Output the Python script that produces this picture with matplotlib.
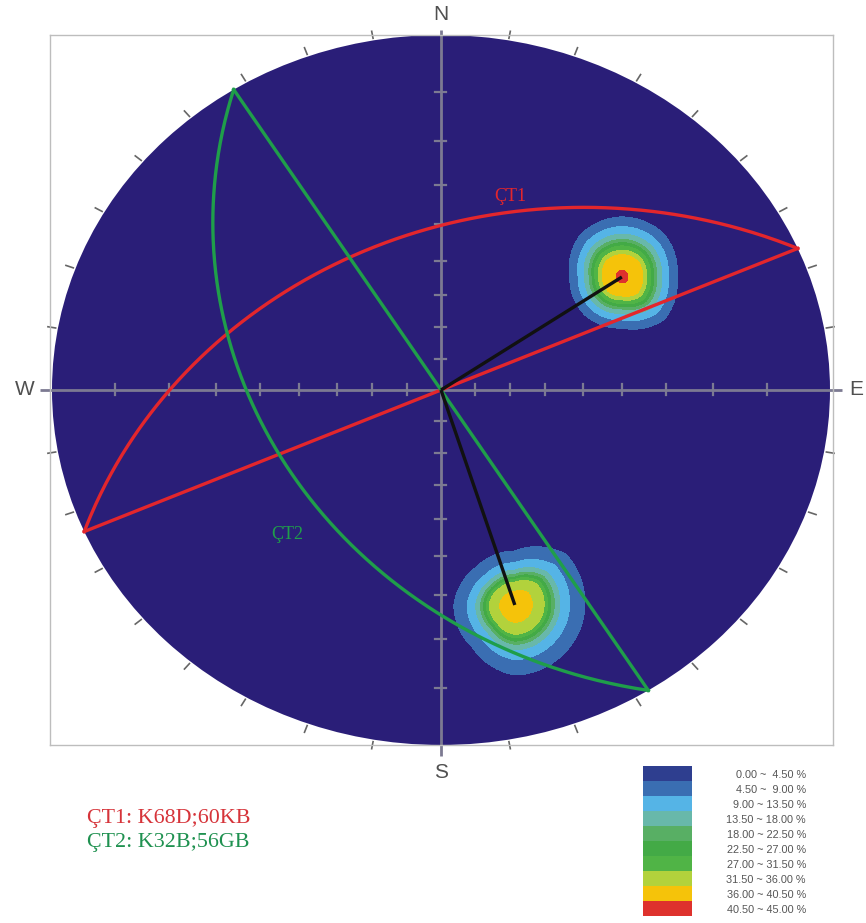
import numpy as np
import matplotlib
matplotlib.use("Agg")
import matplotlib.pyplot as plt
from matplotlib.patches import Circle

# ---------------- data ----------------
# great circles as drawn (dip direction / dip, degrees)
plane_names = ["ÇT1", "ÇT2"]
plane_dipdir = [336.5, 237.8]
plane_dip = [42.7, 41.5]
plane_colors = ["#e3262c", "#1f9e4a"]

# density maxima (trend / plunge) and their peak value (%)
max_trend = [55.6, 162.6]
max_plunge = [31.2, 25.2]
max_peak = [42.5, 39.5]

# contour class bounds (%)
level_bounds = [0.0, 4.5, 9.0, 13.5, 18.0, 22.5, 27.0, 31.5, 36.0, 40.5, 45.0]
# radius (px) where each class bound 4.5, 9, ... is crossed, per maximum
ring_radius_1 = [56, 47, 40, 35, 32, 29, 25, 21, 6]
ring_radius_2 = [64, 50, 41, 36, 33, 30, 27, 16]
# outer outline radius (px) by direction (deg, counter-clockwise from E)
outline_dirs = [0, 45, 90, 135, 180, 225, 270, 315]
outline_1 = [55, 60, 60, 59, 52, 53, 51, 60]
outline_2 = [70, 72, 54, 54, 61, 60, 70, 69]

legend_colors = ["#2e3e8f", "#3a6eb2", "#55b4e6", "#68b8aa", "#58af64",
                 "#43aa46", "#50b446", "#b2d23c", "#f5c30a", "#de322d"]
legend_labels = ["0.00 ~  4.50 %", "4.50 ~  9.00 %", "9.00 ~ 13.50 %",
                 "13.50 ~ 18.00 %", "18.00 ~ 22.50 %", "22.50 ~ 27.00 %",
                 "27.00 ~ 31.50 %", "31.50 ~ 36.00 %", "36.00 ~ 40.50 %",
                 "40.50 ~ 45.00 %"]
note_lines = ["ÇT1: K68D;60KB", "ÇT2: K32B;56GB"]
cardinals = ["N", "E", "S", "W"]

# ---------------- style ----------------
W, H = 866, 923
RX, RY = 389.0, 355.0          # pixels per unit radius
BG = "#2a1e78"
AXIS_C = "#7c7a92"
TXT_C = "#505050"


def project(trend, plunge):
    r = np.tan(np.radians(90.0 - np.asarray(plunge)) / 2.0)
    t = np.radians(trend)
    return r * np.sin(t), r * np.cos(t)


fig = plt.figure(figsize=(W / 100, H / 100), dpi=100)
ax = fig.add_axes([50 / W, 1 - 745 / H, 783 / W, 710 / H])
ax.set_xlim((50 - 441) / RX, (833 - 441) / RX)
ax.set_ylim(-1.0, 1.0)
ax.set_xticks([])
ax.set_yticks([])
for s in ax.spines.values():
    s.set_color("#bdbdbd")
    s.set_linewidth(1.0)

net = Circle((0, 0), 1.0, facecolor=BG, edgecolor="none", zorder=1)
ax.add_patch(net)

# cross lines
ax.plot([-1.03, 1.03], [0, 0], color=AXIS_C, lw=2.0, zorder=2, clip_on=False,
        solid_capstyle="butt")
ax.plot([0, 0], [-1.03, 1.015], color=AXIS_C, lw=2.0, zorder=2, clip_on=False,
        solid_capstyle="butt")
ticks = np.tan(np.radians(np.arange(5, 45, 5)))
hx, hy = 5.5 / RX, 5.5 / RY
for t in np.concatenate([ticks, -ticks]):
    ax.plot([t, t], [-hy, hy], color=AXIS_C, lw=1.6, zorder=2)
    ax.plot([-hx, hx], [t, t], color=AXIS_C, lw=1.6, zorder=2)

# perimeter ticks every 10 degrees
for az in range(10, 360, 10):
    if az % 90 == 0:
        continue
    a = np.radians(az)
    ax.plot([1.006 * np.sin(a), 1.026 * np.sin(a)],
            [1.006 * np.cos(a), 1.026 * np.cos(a)],
            color="#666666", lw=1.2, zorder=2, clip_on=False)

# density contours
gx = np.linspace(-1.01, 1.01, 900)
X, Y = np.meshgrid(gx, gx)
D = np.zeros_like(X)
for tr, pl, pk, rings, outl in [(max_trend[0], max_plunge[0], max_peak[0], ring_radius_1, outline_1),
                                (max_trend[1], max_plunge[1], max_peak[1], ring_radius_2, outline_2)]:
    cx, cy = project(tr, pl)
    dx = (X - cx) * RX
    dy = (Y - cy) * RY
    r = np.hypot(dx, dy)
    th = np.degrees(np.arctan2(dy, dx)) % 360
    shape = np.interp(th, outline_dirs + [360], outl + [outl[0]]) / rings[0]
    reff = r / shape
    n = len(rings)
    xp = [0.0] + rings[::-1] + [rings[0] + 14]
    fp = [pk] + level_bounds[1:n + 1][::-1] + [0.0]
    D = np.maximum(D, np.interp(reff, xp, fp))
D[X ** 2 + Y ** 2 > 1.0] = np.nan
cf = ax.contourf(X, Y, D, levels=level_bounds[1:], colors=legend_colors[1:], zorder=3)
cf.set_clip_path(net)

# great circles, strike lines, lines to maxima
for name, dd, dip, col in zip(plane_names, plane_dipdir, plane_dip, plane_colors):
    alpha = np.linspace(dd - 90, dd + 90, 361)
    p = np.degrees(np.arctan(np.tan(np.radians(dip)) * np.cos(np.radians(alpha - dd))))
    x, y = project(alpha, p)
    ax.plot(x, y, color=col, lw=2.4, zorder=5)
    sx, sy = project([dd - 90, dd + 90], [0, 0])
    ax.plot(sx, sy, color=col, lw=2.4, zorder=5)

for tr, pl in zip(max_trend, max_plunge):
    px, py = project(tr, pl)
    ax.plot([0, px], [0, py], color="#111111", lw=2.4, zorder=6,
            solid_capstyle="butt")

ax.text(0.177, 0.546, plane_names[0], color=plane_colors[0], fontsize=13,
        family="Liberation Serif", ha="center", va="center", zorder=7)
ax.text(-0.396, -0.408, plane_names[1], color=plane_colors[1], fontsize=13,
        family="Liberation Serif", ha="center", va="center", zorder=7)

# cardinal letters
card_pos = {"N": (0.0, 1.058), "S": (0.0, -1.078), "W": (-1.07, 0.0), "E": (1.068, 0.0)}
for c in cardinals:
    ax.text(*card_pos[c], c, color=TXT_C, fontsize=15, family="Liberation Sans",
            ha="center", va="center", clip_on=False)

# legend
lax = fig.add_axes([643 / W, 1 - 916 / H, 49 / W, 150 / H])
ypos = np.arange(len(legend_colors))
lax.barh(ypos, [1] * len(ypos), height=1.0, color=legend_colors)
lax.set_ylim(len(ypos) - 0.5, -0.5)
lax.set_xlim(0, 1)
lax.axis("off")
tr = lax.get_yaxis_transform()
for yv, lab in zip(ypos, legend_labels):
    lax.text((806 - 643) / 49, yv + 0.1, lab, transform=tr, ha="right", va="center",
             fontsize=7.8, color="#555555", family="Liberation Sans")

# notes
fig.text(87 / W, 1 - 818 / H, note_lines[0], color="#d6343a", fontsize=15.8,
         family="Liberation Serif", ha="left", va="center")
fig.text(87 / W, 1 - 843 / H, note_lines[1], color="#1f9150", fontsize=15.8,
         family="Liberation Serif", ha="left", va="center")

fig.savefig("out.png", dpi=100)
